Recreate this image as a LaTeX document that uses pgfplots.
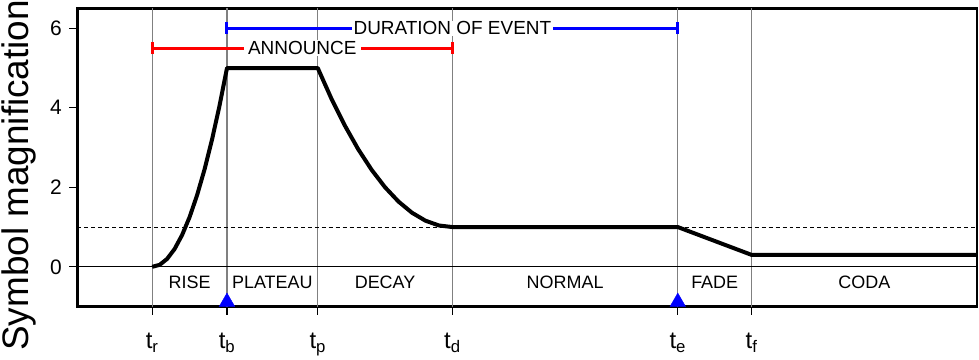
\documentclass[border=0pt]{standalone}
\usepackage{fontspec}
\setmainfont{Liberation Sans}
\usepackage{pgfplots}
\pgfplotsset{compat=1.18}
\begin{document}
\begin{tikzpicture}
\begin{axis}[
  scale only axis, width=902pt, height=299pt,
  xmin=75, xmax=977, ymin=-1, ymax=6.5,
  clip=false,
  axis line style={line width=2.5pt},
  tick align=outside, tick pos=left,
  major tick length=8pt,
  every tick/.style={black, line width=1.2pt},
  xtick={150,225,316,451,677,751},
  xticklabels={t\textsubscript{r},t\textsubscript{b},t\textsubscript{p},t\textsubscript{d},t\textsubscript{e},t\textsubscript{f}},
  ytick={0,2,4,6},
  /pgf/number format/assume math mode=true,
  yticklabel style={font=\fontsize{21}{25}\selectfont, xshift=-4pt},
  xticklabel style={font=\fontsize{24}{28}\selectfont, yshift=-15pt},
  ylabel={\raisebox{0pt}[0.76em][0.21em]{Symbol magnification}},
  ylabel style={font=\fontsize{37}{41}\selectfont, inner sep=0pt, at={(axis description cs:-0.046,0.44)}, anchor=south},
]
% vertical guide lines
\addplot[gray, line width=1.2pt] coordinates {(150,-1) (150,6.5)};
\addplot[gray, line width=1.2pt] coordinates {(225,-1) (225,6.5)};
\addplot[gray, line width=1.2pt] coordinates {(316,-1) (316,6.5)};
\addplot[gray, line width=1.2pt] coordinates {(451,-1) (451,6.5)};
\addplot[gray, line width=1.2pt] coordinates {(677,-1) (677,6.5)};
\addplot[gray, line width=1.2pt] coordinates {(751,-1) (751,6.5)};
% reference lines
\addplot[black, line width=0.9pt] coordinates {(75,0) (977,0)};
\addplot[black, line width=0.6pt, dash pattern=on 4pt off 3pt] coordinates {(75,1) (977,1)};
% magnification curve
\addplot[black, line width=4pt, line join=round] coordinates {
  (150,0) (157.5,0.05) (165,0.2) (172.5,0.45) (180,0.8) (187.5,1.25)
  (195,1.8) (202.5,2.45) (210,3.2) (217.5,4.05) (225,5)
  (316,5) (329.5,4.24) (343,3.56) (356.5,2.96) (370,2.44) (383.5,2)
  (397,1.64) (410.5,1.36) (424,1.16) (437.5,1.04) (451,1)
  (677,1) (751,0.3) (977,0.3)};
% duration bar
\addplot[blue, line width=3pt] coordinates {(225,6) (677,6)};
\addplot[blue, line width=3pt] coordinates {(225,5.85) (225,6.15)};
\addplot[blue, line width=3pt] coordinates {(677,5.85) (677,6.15)};
% announce bar
\addplot[red, line width=3pt] coordinates {(150,5.5) (451,5.5)};
\addplot[red, line width=3pt] coordinates {(150,5.35) (150,5.65)};
\addplot[red, line width=3pt] coordinates {(451,5.35) (451,5.65)};
\node[fill=white, inner xsep=2pt, inner ysep=1pt, font=\fontsize{19}{21}\selectfont] at (axis cs:451,6) {DURATION OF EVENT};
\node[fill=white, inner xsep=4pt, inner ysep=1pt, font=\fontsize{19}{21}\selectfont] at (axis cs:300.5,5.5) {ANNOUNCE};
% region labels
\node[font=\fontsize{18}{20}\selectfont] at (axis cs:187.5,-0.4) {RISE};
\node[font=\fontsize{18}{20}\selectfont] at (axis cs:270.5,-0.4) {PLATEAU};
\node[font=\fontsize{18}{20}\selectfont] at (axis cs:383.5,-0.4) {DECAY};
\node[font=\fontsize{18}{20}\selectfont] at (axis cs:564,-0.4) {NORMAL};
\node[font=\fontsize{18}{20}\selectfont] at (axis cs:714,-0.4) {FADE};
\node[font=\fontsize{18}{20}\selectfont] at (axis cs:864,-0.4) {CODA};
% event markers
\addplot[only marks, mark=triangle*, mark size=9pt, blue, mark options={draw=blue, fill=blue}] coordinates {(225,-0.885) (677,-0.885)};
\end{axis}
\end{tikzpicture}
\end{document}
